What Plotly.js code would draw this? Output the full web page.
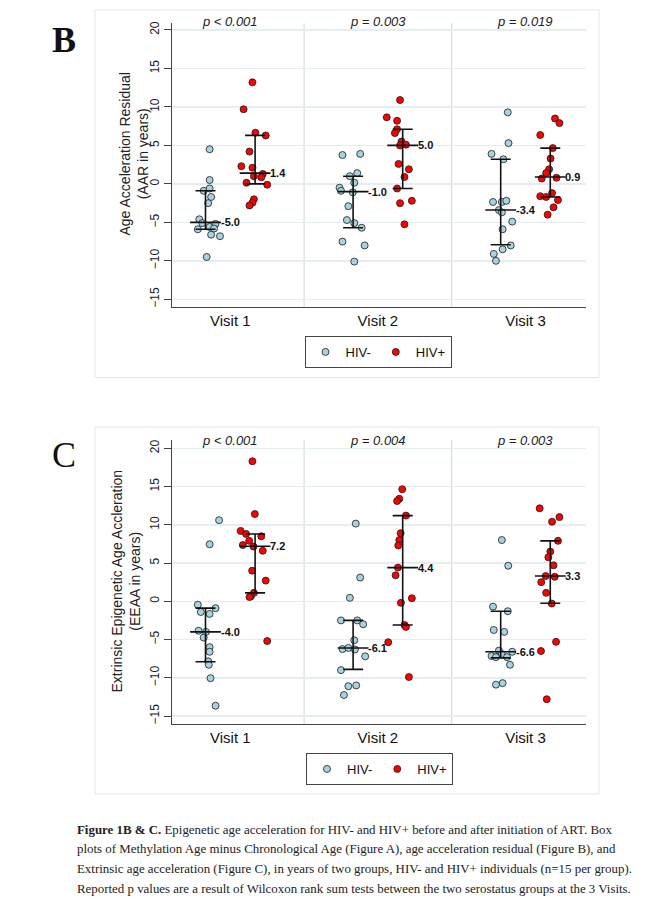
<!DOCTYPE html>
<html><head><meta charset="utf-8">
<script src="https://cdn.plot.ly/plotly-3.0.1.min.js"></script>
<style>html,body{margin:0;padding:0;background:#fff;}#chart{width:669px;height:908px;}</style>
</head><body><div id="chart"></div>
<script>
// ---------------- DATA ----------------
const visits = ['Visit 1', 'Visit 2', 'Visit 3'];
const groups = ['HIV-', 'HIV+'];

// Panel B: Age Acceleration Residual (AAR, years)
const aarNeg = [
  [4.5, 0.5, -0.9, -0.6, -1.7, -2.5, -4.6, -5.1, -5.6, -5.2, -5.9, -5.8, -6.6, -6.8, -9.5],
  [3.75, 3.9, 1.0, 1.4, 0.15, -0.5, -0.9, -1.1, -2.9, -4.7, -5.1, -5.7, -7.5, -8.0, -10.1],
  [9.3, 5.3, 3.9, 3.2, -2.35, -2.35, -2.2, -3.4, -3.7, -4.9, -5.9, -8.0, -8.5, -9.1, -10.0]
];
const aarNegJitter = [
  [-0.14, -0.14, -0.18, -0.14, -0.13, -0.15, -0.21, -0.19, -0.14, -0.10, -0.22, -0.11, -0.13, -0.07, -0.16],
  [-0.24, -0.12, -0.19, -0.14, -0.16, -0.26, -0.25, -0.17, -0.20, -0.21, -0.16, -0.11, -0.24, -0.09, -0.16],
  [-0.12, -0.115, -0.23, -0.15, -0.22, -0.16, -0.13, -0.18, -0.16, -0.09, -0.155, -0.10, -0.155, -0.215, -0.20]
];
const aarPos = [
  [13.2, 9.7, 6.65, 6.3, 4.2, 2.3, 2.1, 1.0, 1.3, 0.85, 0.15, -0.1, -2.0, -2.45, -2.8],
  [10.9, 8.65, 8.2, 7.1, 6.6, 5.5, 5.0, 5.1, 2.6, 1.9, 0.9, -0.6, -2.5, -2.2, -5.25],
  [8.5, 7.9, 6.35, 4.65, 3.3, 1.9, 1.4, 0.7, 0.8, -1.2, -1.6, -1.7, -2.1, -3.05, -4.0]
];
const aarPosJitter = [
  [0.15, 0.09, 0.17, 0.24, 0.13, 0.075, 0.15, 0.16, 0.22, 0.21, 0.11, 0.25, 0.16, 0.15, 0.13],
  [0.15, 0.06, 0.13, 0.13, 0.115, 0.16, 0.15, 0.19, 0.14, 0.21, 0.18, 0.13, 0.15, 0.23, 0.18],
  [0.20, 0.23, 0.10, 0.185, 0.17, 0.16, 0.14, 0.11, 0.21, 0.18, 0.10, 0.14, 0.22, 0.19, 0.15]
];
const aarNegMedian = [-5.0, -1.0, -3.4];
const aarNegQ1 = [-5.9, -5.7, -7.9];
const aarNegQ3 = [-0.9, 1.0, 3.2];
const aarPosMedian = [1.4, 5.0, 0.9];
const aarPosQ1 = [0.0, -0.6, -1.7];
const aarPosQ3 = [6.3, 7.1, 4.65];
const aarP = ['p < 0.001', 'p = 0.003', 'p = 0.019'];

// Panel C: Extrinsic Epigenetic Age Acceleration (EEAA, years)
const eeaaNeg = [
  [10.6, 7.45, -0.45, -0.9, -1.4, -1.65, -3.85, -4.0, -4.75, -6.0, -6.6, -7.85, -8.3, -10.05, -13.65],
  [10.15, 3.1, 0.45, -2.5, -2.5, -3.0, -5.1, -6.25, -6.1, -6.3, -7.2, -9.0, -11.0, -11.1, -12.25],
  [8.0, 4.65, -0.7, -1.3, -3.75, -4.0, -6.45, -6.6, -6.9, -7.15, -7.3, -7.3, -8.3, -10.7, -10.9]
];
const eeaaNegJitter = [
  [-0.076, -0.14, -0.22, -0.10, -0.20, -0.14, -0.215, -0.165, -0.18, -0.14, -0.14, -0.15, -0.146, -0.134, -0.10],
  [-0.15, -0.12, -0.19, -0.25, -0.14, -0.10, -0.16, -0.24, -0.20, -0.156, -0.086, -0.25, -0.147, -0.20, -0.23],
  [-0.16, -0.117, -0.22, -0.12, -0.215, -0.144, -0.18, -0.09, -0.16, -0.23, -0.125, -0.2, -0.105, -0.155, -0.2]
];
const eeaaPos = [
  [18.3, 11.4, 9.2, 8.8, 8.5, 7.9, 7.35, 7.15, 6.6, 4.0, 2.7, 1.1, 0.65, 0.55, -5.2],
  [14.65, 13.4, 13.1, 11.2, 8.9, 8.0, 7.3, 4.4, 3.4, 0.4, -0.2, -3.1, -3.35, -5.35, -9.9],
  [12.15, 11.0, 10.4, 7.9, 6.5, 5.75, 4.7, 3.3, 3.2, 2.5, 1.1, -0.3, -5.3, -6.5, -12.8]
];
const eeaaPosJitter = [
  [0.15, 0.166, 0.07, 0.107, 0.21, 0.128, 0.085, 0.157, 0.22, 0.148, 0.24, 0.16, 0.14, 0.13, 0.25],
  [0.165, 0.145, 0.13, 0.19, 0.154, 0.145, 0.138, 0.136, 0.12, 0.23, 0.156, 0.18, 0.19, 0.07, 0.21],
  [0.096, 0.23, 0.18, 0.22, 0.168, 0.155, 0.19, 0.137, 0.198, 0.107, 0.14, 0.178, 0.207, 0.105, 0.144]
];
const eeaaNegMedian = [-4.0, -6.1, -6.6];
const eeaaNegQ1 = [-7.9, -8.9, -7.4];
const eeaaNegQ3 = [-0.9, -2.5, -1.3];
const eeaaPosMedian = [7.2, 4.4, 3.3];
const eeaaPosQ1 = [1.1, -3.1, -0.25];
const eeaaPosQ3 = [8.8, 11.2, 7.9];
const eeaaP = ['p < 0.001', 'p = 0.004', 'p = 0.003'];

const yTicks = [-15, -10, -5, 0, 5, 10, 15, 20];

const captionLines = [
  '<b>Figure 1B &amp; C.</b> Epigenetic age acceleration for HIV- and HIV+ before and after initiation of ART. Box',
  'plots of Methylation Age minus Chronological Age (Figure A), age acceleration residual (Figure B), and',
  'Extrinsic age acceleration (Figure C), in years of two groups, HIV- and HIV+ individuals (n=15 per group).',
  'Reported p values are a result of Wilcoxon rank sum tests between the two serostatus groups at the 3 Visits.'
];

// ---------------- STYLE / LAYOUT HELPERS ----------------
const W = 669, H = 908;
const px = x => x / W;
const py = y => 1 - y / H;
const NEG_COLOR = '#a6d2e2';
const POS_COLOR = '#ff0000';
const BAR_OFFSET = 0.168;

function pointTrace(vals, jit, color, name, xa, ya, legend, showlegend) {
  const x = [], y = [];
  vals.forEach((arr, i) => arr.forEach((v, j) => { x.push(i + 1 + jit[i][j]); y.push(v); }));
  return {type: 'scatter', mode: 'markers', x, y, xaxis: xa, yaxis: ya, name, legend, showlegend,
    marker: {color, size: 7, line: {color: '#1a1a1a', width: 0.8}}, hoverinfo: 'skip'};
}
function iqrTrace(med, q1, q3, off, xa, ya) {
  return {type: 'scatter', mode: 'markers', x: med.map((_, i) => i + 1 + off), y: med,
    xaxis: xa, yaxis: ya, showlegend: false, hoverinfo: 'skip',
    marker: {symbol: 'line-ew-open', size: 22, color: '#111', line: {width: 1.6, color: '#111'}},
    error_y: {type: 'data', symmetric: false, array: q3.map((v, i) => v - med[i]),
      arrayminus: q1.map((v, i) => med[i] - v), color: '#111', thickness: 1.6, width: 10}};
}
function medianLabels(med, off, xa, ya) {
  return med.map((m, i) => ({xref: xa, yref: ya, x: i + 1 + off, y: m, text: '<b>' + m.toFixed(1) + '</b>',
    showarrow: false, xanchor: 'left', yanchor: 'middle', xshift: 13,
    font: {family: 'Arial, Liberation Sans', size: 11, color: '#111'}}));
}
function pLabels(pv, xa, yPix) {
  return pv.map((t, i) => ({xref: xa, yref: 'paper', x: i + 1, y: py(yPix), text: '<i>' + t + '</i>',
    showarrow: false, xanchor: 'center', yanchor: 'middle',
    font: {family: 'Arial, Liberation Sans', size: 13, color: '#222'}}));
}

const traces = [
  pointTrace(aarNeg, aarNegJitter, NEG_COLOR, groups[0], 'x', 'y', 'legend', true),
  pointTrace(aarPos, aarPosJitter, POS_COLOR, groups[1], 'x', 'y', 'legend', true),
  iqrTrace(aarNegMedian, aarNegQ1, aarNegQ3, -BAR_OFFSET, 'x', 'y'),
  iqrTrace(aarPosMedian, aarPosQ1, aarPosQ3, BAR_OFFSET, 'x', 'y'),
  pointTrace(eeaaNeg, eeaaNegJitter, NEG_COLOR, groups[0], 'x2', 'y2', 'legend2', true),
  pointTrace(eeaaPos, eeaaPosJitter, POS_COLOR, groups[1], 'x2', 'y2', 'legend2', true),
  iqrTrace(eeaaNegMedian, eeaaNegQ1, eeaaNegQ3, -BAR_OFFSET, 'x2', 'y2'),
  iqrTrace(eeaaPosMedian, eeaaPosQ1, eeaaPosQ3, BAR_OFFSET, 'x2', 'y2')
];

function xAxis(anchor) {
  return {domain: [px(172), px(586)], anchor, range: [0.605, 3.41], tickvals: [1, 2, 3], ticktext: visits,
    ticks: '', showline: true, linecolor: '#444', linewidth: 1, showgrid: false, zeroline: false,
    tickfont: {family: 'Arial, Liberation Sans', size: 15, color: '#111'}, fixedrange: true};
}
function yAxis(anchor, top, bottom, range) {
  return {domain: [py(bottom), py(top)], anchor, range, tickvals: yTicks, tickangle: -90,
    ticks: 'outside', ticklen: 7, tickcolor: '#444', tickwidth: 1, showline: true, linecolor: '#444', linewidth: 1,
    showgrid: true, gridcolor: '#e4eef2', gridwidth: 1.5, zeroline: false,
    tickfont: {family: 'Arial, Liberation Sans', size: 12, color: '#222'}, fixedrange: true};
}

const shapes = [
  {type: 'rect', xref: 'paper', yref: 'paper', x0: px(95), x1: px(599), y0: py(377.5), y1: py(10), line: {color: '#e2e6e8', width: 1}, layer: 'below'},
  {type: 'rect', xref: 'paper', yref: 'paper', x0: px(95), x1: px(599), y0: py(794), y1: py(427), line: {color: '#e2e6e8', width: 1}, layer: 'below'}
];
[1.5, 2.5].forEach(s => {
  shapes.push({type: 'line', xref: 'x', yref: 'y domain', x0: s, x1: s, y0: 0, y1: 1, line: {color: '#d2d6d9', width: 1}, layer: 'below'});
  shapes.push({type: 'line', xref: 'x2', yref: 'y2 domain', x0: s, x1: s, y0: 0, y1: 1, line: {color: '#d2d6d9', width: 1}, layer: 'below'});
});

let annotations = [];
annotations = annotations.concat(medianLabels(aarNegMedian, -BAR_OFFSET, 'x', 'y'));
annotations = annotations.concat(medianLabels(aarPosMedian, BAR_OFFSET, 'x', 'y'));
annotations = annotations.concat(medianLabels(eeaaNegMedian, -BAR_OFFSET, 'x2', 'y2'));
annotations = annotations.concat(medianLabels(eeaaPosMedian, BAR_OFFSET, 'x2', 'y2'));
annotations = annotations.concat(pLabels(aarP, 'x', 22));
annotations = annotations.concat(pLabels(eeaaP, 'x2', 440));
annotations.push(
  {xref: 'paper', yref: 'paper', x: px(133.5), y: py(154), text: 'Age Acceleration Residual<br>(AAR in years)',
   textangle: -90, showarrow: false, xanchor: 'center', yanchor: 'middle',
   font: {family: 'Arial, Liberation Sans', size: 14, color: '#222'}},
  {xref: 'paper', yref: 'paper', x: px(125.5), y: py(581), text: 'Extrinsic Epigenetic Age Accleration<br>(EEAA in years)',
   textangle: -90, showarrow: false, xanchor: 'center', yanchor: 'middle',
   font: {family: 'Arial, Liberation Sans', size: 14, color: '#222'}},
  {xref: 'paper', yref: 'paper', x: px(63.5), y: py(40), text: '<b>B</b>', showarrow: false, xanchor: 'center', yanchor: 'middle',
   font: {family: 'Liberation Serif, Times New Roman, serif', size: 36, color: '#111'}},
  {xref: 'paper', yref: 'paper', x: px(64), y: py(455), text: 'C', showarrow: false, xanchor: 'center', yanchor: 'middle',
   font: {family: 'Liberation Serif, Times New Roman, serif', size: 36, color: '#111'}}
);
captionLines.forEach((t, i) => annotations.push({xref: 'paper', yref: 'paper', x: px(75), y: py(829.5 + i * 19.8), text: t,
  showarrow: false, xanchor: 'left', yanchor: 'middle', align: 'left',
  font: {family: 'Liberation Serif, Times New Roman, serif', size: 12.9, color: '#222'}}));

const legendCommon = {orientation: 'h', xanchor: 'center', yanchor: 'top', bgcolor: '#fff', bordercolor: '#444', borderwidth: 1,
  font: {family: 'Arial, Liberation Sans', size: 13, color: '#111'}, itemwidth: 30, tracegroupgap: 0};

const layout = {
  width: W, height: H, autosize: false, margin: {l: 0, r: 0, t: 0, b: 0},
  paper_bgcolor: '#fff', plot_bgcolor: '#fff', showlegend: true,
  xaxis: xAxis('y'), yaxis: yAxis('x', 23.3, 306.7, [-15.96, 20.87]),
  xaxis2: xAxis('y2'), yaxis2: yAxis('x2', 440, 724.3, [-16.08, 21.08]),
  legend: Object.assign({x: px(378), y: py(336)}, legendCommon),
  legend2: Object.assign({x: px(379.5), y: py(753)}, legendCommon),
  shapes, annotations
};

Plotly.newPlot('chart', traces, layout, {staticPlot: true, displayModeBar: false});
</script>
</body></html>
